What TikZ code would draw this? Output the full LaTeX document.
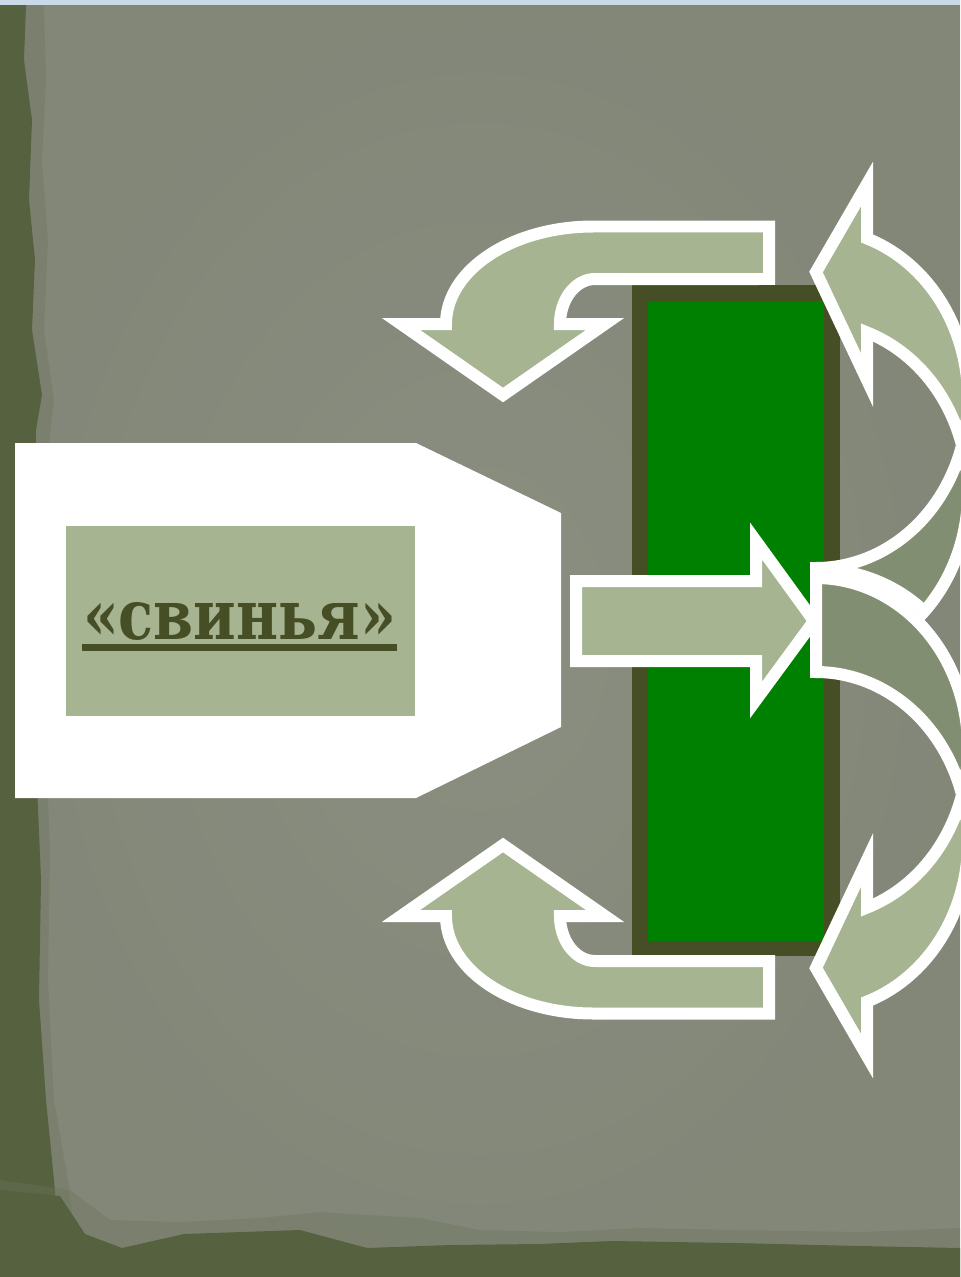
\documentclass[tikz,border=0pt]{standalone}
\usepackage{fontspec}
\usepackage{graphicx}
\newfontfamily\labelfont{DejaVu Serif}
\definecolor{bgpaper}{RGB}{136,140,126}
\definecolor{bglight}{RGB}{141,145,131}
\definecolor{bgedge}{RGB}{128,132,117}
\definecolor{bgdark}{RGB}{86,97,64}
\definecolor{bgmid}{RGB}{108,117,90}
\definecolor{topblue}{RGB}{203,216,232}
\definecolor{lightfill}{RGB}{166,180,146}
\definecolor{darkfill}{RGB}{130,142,114}
\definecolor{olive}{RGB}{70,78,37}
\definecolor{brightgreen}{RGB}{0,128,0}
\tikzset{
  wline/.style={draw=white, line width=0.24cm, line join=miter, miter limit=10},
  lightarrow/.style={wline, fill=lightfill},
}
% U-turn arrow (top one, head pointing down)
\newcommand\UturnShape{%
  \path[lightarrow] (769,226.5) -- (593,226.5)
    -- plot[domain=270:180, samples=40, variable=\t] ({593+147*cos(\t)},{324+97.5*sin(\t)})
    -- (401,324) -- (503,395) -- (605,324) -- (560,324)
    -- plot[domain=180:270, samples=30, variable=\t] ({595+35*cos(\t)},{324+45*sin(\t)})
    -- (769,279) -- cycle;
}
% curved arrow on the right (lower one, head pointing left at the bottom)
\newcommand\CurvedShape{%
  \fill[darkfill] (816,672) -- (816,569) -- (816,578)
    -- plot[domain=270:360, samples=40, variable=\t] ({816+152*cos(\t)},{747.7+169.7*sin(\t)})
    -- plot[domain=0:-90, samples=40, variable=\t] ({816+152*cos(\t)},{841.7+169.7*sin(\t)})
    -- cycle;
  \fill[lightfill] plot[domain=0:70.4, samples=40, variable=\t] ({816+152*cos(\t)},{747.7+169.7*sin(\t)})
    -- (867,860) -- (816,968) -- (867,1056)
    -- plot[domain=70.4:0, samples=40, variable=\t] ({816+152*cos(\t)},{841.7+169.7*sin(\t)})
    -- cycle;
  \draw[wline] (816,672) -- (816,569) -- (816,578)
    -- plot[domain=270:430.4, samples=90, variable=\t] ({816+152*cos(\t)},{747.7+169.7*sin(\t)})
    -- (867,860) -- (816,968) -- (867,1056)
    -- plot[domain=70.4:-90, samples=90, variable=\t] ({816+152*cos(\t)},{841.7+169.7*sin(\t)})
    -- cycle;
}
\begin{document}
\begin{tikzpicture}[x=0.02cm,y=-0.02cm]
\useasboundingbox (0,0) rectangle (960,1277);
% background paper
\fill[bgpaper] (0,0) rectangle (960,1277);
\shade[inner color=bglight, outer color=bgedge, opacity=0.6] (0,0) rectangle (960,1277);
% left darker edge
\fill[bgmid, opacity=0.35] (0,5) -- (44,5) -- (46,80) -- (42,160) -- (48,240) -- (44,330) -- (54,400) -- (46,470) -- (48,600) -- (45,720) -- (50,850) -- (48,980) -- (54,1100) -- (68,1180) -- (80,1277) -- (0,1277) -- cycle;
\fill[bgdark] (0,5) -- (26,5) -- (24,60) -- (32,120) -- (29,200) -- (35,260) -- (32,330) -- (42,395) -- (36,430) -- (35,520) -- (39,640) -- (36,760) -- (41,880) -- (39,1000) -- (46,1100) -- (54,1180) -- (62,1277) -- (0,1277) -- cycle;
% bottom darker edge
\fill[bgmid, opacity=0.35] (0,1277) -- (0,1180) -- (70,1190) -- (110,1220) -- (180,1222) -- (260,1218) -- (320,1212) -- (420,1218) -- (480,1230) -- (560,1232) -- (640,1228) -- (740,1230) -- (860,1232) -- (960,1228) -- (960,1277) -- cycle;
\fill[bgdark] (0,1277) -- (0,1190) -- (60,1196) -- (85,1234) -- (122,1248) -- (184,1234) -- (300,1230) -- (367,1248) -- (450,1245) -- (539,1244) -- (612,1241) -- (735,1243) -- (860,1246) -- (960,1248) -- (960,1277) -- cycle;
% top light strip
\fill[topblue] (0,0) rectangle (960,5);

% white tag with the label
\fill[white] (15,443) -- (416,443) -- (561,513) -- (561,727) -- (416,798) -- (15,798) -- cycle;
\fill[lightfill] (65.5,526) rectangle (415,715.7);
\node[inner sep=0pt, anchor=base, text=olive] (title) at (239.5,639)
  {\resizebox{6.26cm}{0.74cm}{\labelfont\bfseries «свинья»}};
\fill[olive] (82,644) rectangle (397,650.7);

% green bar with dark border
\fill[olive] (632,285) rectangle (840,956);
\fill[brightgreen] (648,301) rectangle (824,941);

% U-turn arrows (top and mirrored bottom)
\UturnShape
\begin{scope}[shift={(0,1240)}, yscale=-1]
  \UturnShape
\end{scope}

% straight arrow into the bar
\path[lightarrow] (576,581) -- (756,581) -- (756,541) -- (814,621) -- (756,700) -- (756,661) -- (576,661) -- cycle;

% curved arrows on the right: upper (mirrored) below, lower on top
\begin{scope}[shift={(0,1240)}, yscale=-1]
  \CurvedShape
\end{scope}
\draw[wline] plot[domain=270:315, samples=30, variable=\t] ({816+152*cos(\t)},{711+142*sin(\t)});
\CurvedShape
\end{tikzpicture}
\end{document}
